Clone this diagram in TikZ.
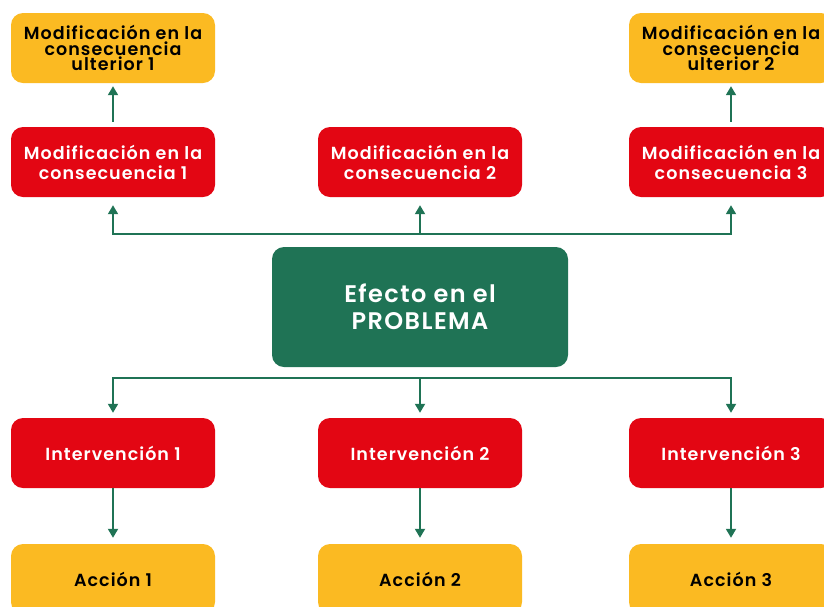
\documentclass[tikz,border=0pt]{standalone}
\usepackage{fontspec}
\setmainfont{Poppins}[BoldFont=Poppins SemiBold, LetterSpace=6]
\usepackage{tikz}
\usetikzlibrary{arrows.meta}
\definecolor{naranja}{HTML}{FBBA22}
\definecolor{rojo}{HTML}{E30613}
\definecolor{verde}{HTML}{1F7355}
\tikzset{
  caja/.style={rounded corners=12pt, minimum width=204pt, minimum height=70pt, inner sep=0pt, align=center, font=\bfseries\fontsize{17.5}{20}\selectfont},
  cajaroja/.style={caja, fill=rojo, text=white},
  cajanaranja/.style={caja, fill=naranja, text=black},
  linea/.style={draw=verde, line width=1.8pt, line cap=rect},
  flecha/.style={draw=verde, line width=1.8pt, -{Triangle[length=9pt,width=10pt]}, shorten >=6pt},
}

\begin{document}
\begin{tikzpicture}[x=1pt, y=-1pt]
\useasboundingbox (0,0) rectangle (824,606);
% consecuencias
\node[cajanaranja, font=\bfseries\fontsize{17.5}{15.5}\selectfont] (ult1) at (113,48) {Modificación en la\\consecuencia\\ulterior 1};
\node[cajanaranja, font=\bfseries\fontsize{17.5}{15.5}\selectfont] (ult2) at (731,48) {Modificación en la\\consecuencia\\ulterior 2};
\node[cajaroja] (cons1) at (113,162) {Modificación en la\\consecuencia 1};
\node[cajaroja] (cons2) at (420,162) {Modificación en la\\consecuencia 2};
\node[cajaroja] (cons3) at (731,162) {Modificación en la\\consecuencia 3};
\draw[flecha, shorten <=5pt, shorten >=3pt] (cons1) -- (ult1);
\draw[flecha, shorten <=5pt, shorten >=3pt] (cons3) -- (ult2);

% problema
\node[caja, fill=verde, text=white, minimum width=296pt, minimum height=120pt, font=\bfseries\fontsize{24}{27}\selectfont] (efecto) at (420,307) {Efecto en el\\PROBLEMA};
\coordinate (arriba) at (420,234);
\coordinate (abajo) at (420,378);
\draw[linea] (cons1 |- arriba) -- (cons3 |- arriba);
\foreach \n in {1,2,3}
  \draw[flecha, shorten >=8pt] (cons\n |- arriba) -- (cons\n);

% intervenciones
\node[cajaroja] (int1) at (113,453) {Intervención 1};
\node[cajaroja] (int2) at (420,453) {Intervención 2};
\node[cajaroja] (int3) at (731,453) {Intervención 3};
\node[cajanaranja] (acc1) at (113,579) {Acción 1};
\node[cajanaranja] (acc2) at (420,579) {Acción 2};
\node[cajanaranja] (acc3) at (731,579) {Acción 3};
\draw[linea] (int1 |- abajo) -- (int3 |- abajo);
\foreach \n in {1,2,3} {
  \draw[flecha, shorten >=5pt] (int\n |- abajo) -- (int\n);
  \draw[flecha] (int\n) -- (acc\n);
}
\end{tikzpicture}
\end{document}
